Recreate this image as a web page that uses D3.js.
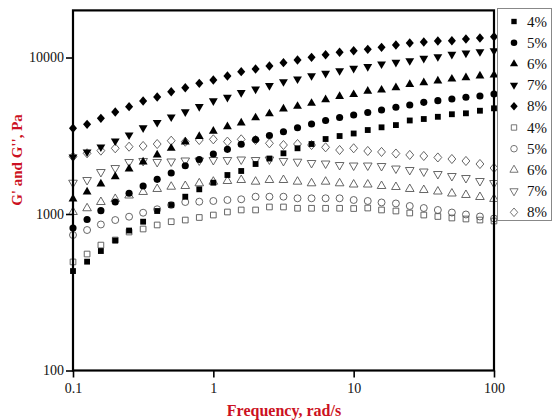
<!DOCTYPE html>
<html>
<head>
<meta charset="utf-8">
<script src="https://cdn.jsdelivr.net/npm/d3@7"></script>
<style>
  body { margin: 0; background: #fff; }
  svg { display: block; }
  text { font-family: "Liberation Serif", "Times New Roman", serif; }
  .axis-title { fill: #cc1122; font-weight: bold; font-size: 15px; }
</style>
</head>
<body>
<div id="chart-container"></div>
<script>
// frequency, rad/s
const freq = [0.1, 0.126, 0.158, 0.2, 0.251, 0.316, 0.398, 0.501, 0.631, 0.794,
  1, 1.26, 1.58, 2, 2.51, 3.16, 3.98, 5.01, 6.31, 7.94,
  10, 12.6, 15.8, 20, 25.1, 31.6, 39.8, 50.1, 63.1, 79.4, 100];

const concentrations = ["4%", "5%", "6%", "7%", "8%"];

// storage modulus G' (filled symbols), Pa
const gp4 = [432, 496, 580, 677, 784, 893, 1045, 1142, 1290, 1438, 1585, 1775, 1883, 2087, 2262, 2443, 2630, 2800, 3014, 3150, 3270, 3440, 3580, 3700, 3960, 4046, 4180, 4340, 4400, 4570, 4735];
const gp5 = [814, 922, 1050, 1193, 1356, 1510, 1666, 1828, 2035, 2230, 2416, 2590, 2790, 2990, 3174, 3356, 3560, 3760, 3960, 4140, 4290, 4450, 4620, 4810, 4970, 5170, 5300, 5430, 5570, 5675, 5845];
const gp6 = [1248, 1383, 1556, 1732, 1940, 2150, 2385, 2630, 2886, 3130, 3380, 3614, 3817, 4118, 4370, 4690, 4880, 5100, 5380, 5640, 5800, 6090, 6200, 6410, 6740, 6900, 7080, 7290, 7430, 7620, 7730];
const gp7 = [2315, 2490, 2680, 2930, 3200, 3550, 3845, 4170, 4490, 4860, 5280, 5570, 5960, 6290, 6610, 7000, 7290, 7650, 7930, 8230, 8530, 8740, 9090, 9320, 9540, 9880, 10120, 10480, 10680, 10890, 11050];
const gp8 = [3530, 3743, 4088, 4485, 4849, 5273, 5592, 6046, 6412, 6842, 7183, 7617, 8118, 8446, 8826, 9265, 9639, 10030, 10420, 10800, 11050, 11280, 11620, 12020, 12380, 12560, 12750, 12800, 13130, 13320, 13580];

// loss modulus G'' (open symbols), Pa
const gpp4 = [494, 555, 633, 682, 767, 802, 851, 893, 915, 950, 985, 1030, 1061, 1061, 1109, 1109, 1088, 1088, 1088, 1088, 1084, 1092, 1061, 1045, 1015, 985, 964, 943, 929, 915, 902];
const gpp5 = [734, 790, 857, 915, 961, 1019, 1072, 1142, 1193, 1199, 1211, 1229, 1242, 1290, 1290, 1290, 1260, 1260, 1260, 1260, 1229, 1211, 1185, 1168, 1125, 1092, 1061, 1022, 993, 964, 936];
const gpp6 = [1030, 1088, 1193, 1248, 1313, 1383, 1445, 1494, 1510, 1571, 1609, 1625, 1649, 1609, 1649, 1649, 1609, 1571, 1609, 1571, 1543, 1543, 1510, 1488, 1445, 1423, 1392, 1352, 1323, 1284, 1248];
const gpp7 = [1585, 1649, 1855, 1967, 2150, 2182, 2150, 2166, 2198, 2198, 2213, 2213, 2230, 2213, 2230, 2182, 2159, 2118, 2102, 2056, 2041, 2041, 2026, 1953, 1911, 1869, 1801, 1749, 1698, 1625, 1578];
const gpp8 = [2323, 2443, 2540, 2630, 2692, 2720, 2800, 2940, 2897, 2970, 3000, 2900, 3000, 2970, 2830, 2760, 2800, 2760, 2668, 2564, 2630, 2527, 2492, 2435, 2385, 2348, 2298, 2246, 2182, 2087, 1967];

const xMajor = [0.1, 1, 10, 100];
const yMajor = [100, 1000, 10000];

const W = 554, H = 420;
const x = d3.scaleLog().domain([0.1, 100]).range([73, 494]);
const y = d3.scaleLog().domain([100, 20000]).range([370.5, 10.4]);

// diamond drawn as a square turned 45 degrees, a bit taller than wide
const diamond = {
  draw(ctx, size) {
    const r = Math.sqrt(size / 2);
    ctx.moveTo(0, -r * 1.1);
    ctx.lineTo(r * 0.95, 0);
    ctx.lineTo(0, r * 1.1);
    ctx.lineTo(-r * 0.95, 0);
    ctx.closePath();
  }
};

const markers = [
  {type: d3.symbolSquare, size: 34, rot: 0},
  {type: d3.symbolCircle, size: 40, rot: 0},
  {type: d3.symbolTriangle, size: 34, rot: 0},
  {type: d3.symbolTriangle, size: 34, rot: 180},
  {type: diamond, size: 36, rot: 0}
];

const storage = [gp4, gp5, gp6, gp7, gp8];
const loss = [gpp4, gpp5, gpp6, gpp7, gpp8];

const svg = d3.select("#chart-container")
  .append("svg")
  .attr("width", W)
  .attr("height", H);

// minor tick values for both log axes
const minorX = [], minorY = [];
[0.1, 1, 10].forEach(d => { for (let k = 2; k <= 9; k++) minorX.push(d * k); });
[100, 1000, 10000].forEach(d => { for (let k = 2; k <= 9; k++) if (d * k <= 20000) minorY.push(d * k); });

// data marks
function drawSeries(values, m, filled) {
  svg.append("g")
    .selectAll("path")
    .data(values.map((v, i) => ({f: freq[i], v: v})))
    .join("path")
    .attr("transform", d => `translate(${x(d.f)},${y(d.v)}) rotate(${m.rot})`)
    .attr("d", d3.symbol().type(m.type).size(filled ? m.size : m.size * 0.95))
    .attr("fill", filled ? "#000" : "none")
    .attr("stroke", filled ? "none" : "#555")
    .attr("stroke-width", 0.9);
}
loss.forEach((s, i) => drawSeries(s, markers[i], false));
storage.forEach((s, i) => drawSeries(s, markers[i], true));

// axes
const gx = svg.append("g").attr("transform", `translate(0,${y.range()[0]})`);
gx.call(d3.axisBottom(x).tickValues(minorX).tickSize(4).tickFormat(""));
gx.call(d3.axisBottom(x).tickValues(xMajor).tickSize(7).tickSizeOuter(0).tickPadding(6)
  .tickFormat(d => d < 1 ? "0.1" : d3.format("d")(d)));

const gy = svg.append("g").attr("transform", `translate(${x.range()[0]},0)`);
gy.call(d3.axisLeft(y).tickValues(minorY).tickSize(4).tickFormat(""));
gy.call(d3.axisLeft(y).tickValues(yMajor).tickSize(7).tickSizeOuter(0).tickPadding(2)
  .tickFormat(d3.format("d")));

svg.selectAll(".tick text").attr("font-size", 14).attr("font-family", "Liberation Serif").attr("fill", "#111");
svg.selectAll(".tick line").attr("stroke", "#000").attr("stroke-width", 1.6);
svg.selectAll(".domain").remove();

// frame
svg.append("rect")
  .attr("x", x.range()[0])
  .attr("y", y.range()[1])
  .attr("width", x.range()[1] - x.range()[0])
  .attr("height", y.range()[0] - y.range()[1])
  .attr("fill", "none")
  .attr("stroke", "#000")
  .attr("stroke-width", 2.2);

// axis titles
svg.append("text")
  .attr("class", "axis-title")
  .attr("text-anchor", "middle")
  .attr("transform", "translate(22,160) rotate(-90)")
  .text("G' and G'', Pa");

svg.append("text")
  .attr("class", "axis-title")
  .attr("text-anchor", "middle")
  .attr("x", 284)
  .attr("y", 416)
  .style("font-size", "16px")
  .text("Frequency, rad/s");

// legend
const lg = svg.append("g");
lg.append("rect")
  .attr("x", 497.5).attr("y", 8.5)
  .attr("width", 54).attr("height", 212)
  .attr("fill", "#fff")
  .attr("stroke", "#888")
  .attr("stroke-width", 1);

const legendItems = [];
concentrations.forEach((c, i) => legendItems.push({label: c, m: markers[i], filled: true}));
concentrations.forEach((c, i) => legendItems.push({label: c, m: markers[i], filled: false}));

const row = lg.selectAll("g.row")
  .data(legendItems)
  .join("g")
  .attr("class", "row")
  .attr("transform", (d, i) => `translate(0,${21.5 + i * 21.2})`);

row.append("path")
  .attr("transform", d => `translate(514,0) rotate(${d.m.rot})`)
  .attr("d", d => d3.symbol().type(d.m.type).size(d.m.size * 0.85)())
  .attr("fill", d => d.filled ? "#000" : "none")
  .attr("stroke", d => d.filled ? "none" : "#666")
  .attr("stroke-width", 0.9);

row.append("text")
  .attr("x", 527)
  .attr("y", 5)
  .attr("font-size", 15)
  .attr("fill", "#111")
  .text(d => d.label);
</script>
</body>
</html>
